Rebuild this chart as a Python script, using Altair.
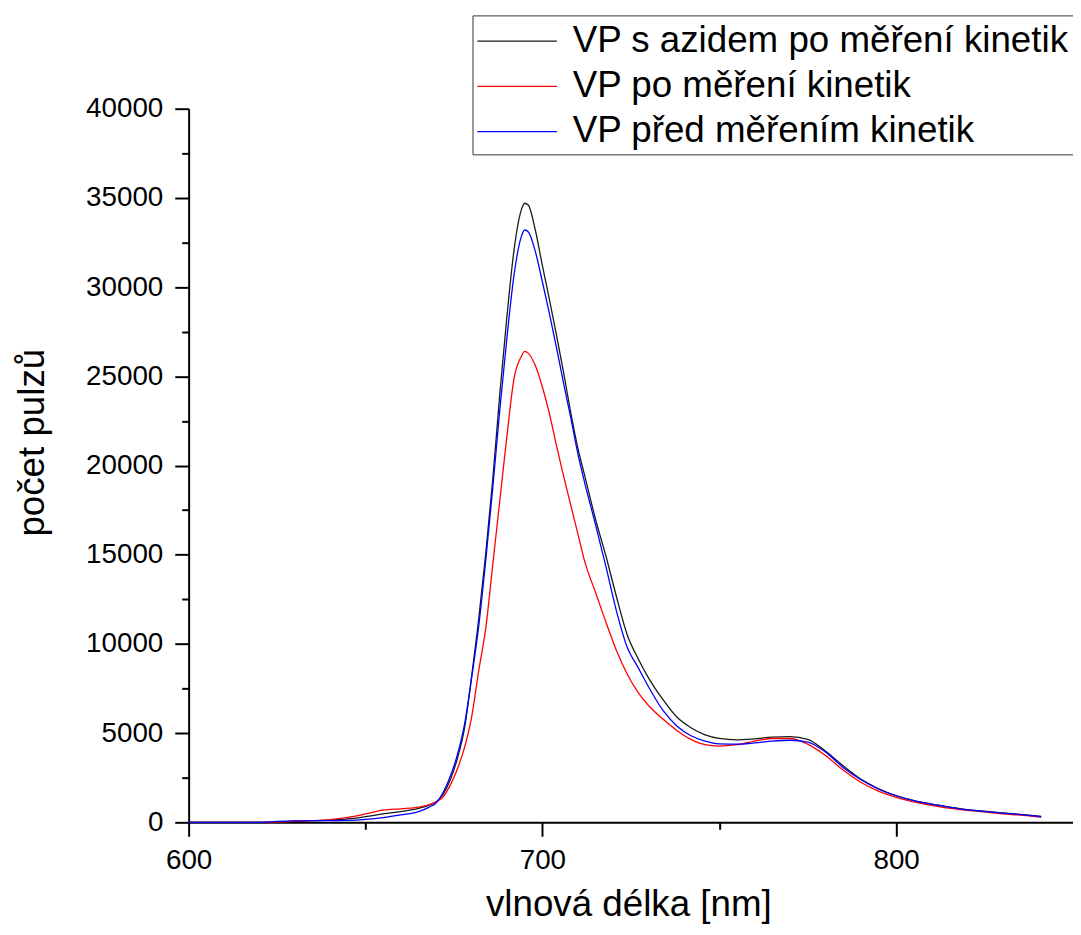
import altair as alt
import pandas as pd

# wavelength grid [nm]
wavelength = [600, 610, 620, 625, 630, 635, 640, 645, 650, 655, 660, 665, 668, 670,
              672, 674, 676, 678, 680, 682, 684, 686, 688, 690, 692, 694, 695, 696,
              698, 700, 702, 704, 706, 708, 710, 712, 715, 718, 721, 724, 727, 730,
              734, 738, 742, 746, 750, 755, 760, 765, 770, 775, 780, 785, 790, 795,
              800, 806, 812, 818, 824, 830, 836, 841]

# VP s azidem po měření kinetik (black)
vp_azid = [0, 0, 0, 20, 60, 90, 120, 190, 320, 470, 600, 780, 960, 1150,
           1600, 2400, 3600, 5300, 8200, 11400, 15100, 19300, 24100, 28400, 32100, 34300, 34700, 34600,
           33200, 31200, 29300, 27300, 25200, 23000, 21000, 19400, 17000, 14900, 12600, 10500, 9200, 8100,
           6900, 5900, 5300, 4900, 4700, 4620, 4680, 4780, 4800, 4650, 4000, 3170, 2420, 1880,
           1500, 1170, 960, 770, 640, 530, 430, 330]

# VP po měření kinetik (red)
vp_po = [0, 0, 0, 20, 60, 90, 150, 280, 470, 680, 760, 850, 1000, 1150,
         1450, 2100, 3000, 4200, 5900, 8500, 10900, 14500, 18100, 21700, 24900, 26100, 26400, 26300,
         25600, 24400, 22900, 21100, 19400, 17800, 16200, 14600, 12900, 11200, 9600, 8300, 7300, 6550,
         5800, 5150, 4650, 4350, 4270, 4350, 4550, 4700, 4700, 4380, 3750, 2930, 2250, 1750,
         1400, 1100, 880, 720, 600, 480, 390, 280]

# VP před měřením kinetik (blue)
vp_pred = [0, 0, 0, 50, 80, 90, 100, 110, 170, 270, 420, 600, 850, 1100,
           1700, 2600, 3800, 5500, 8100, 11000, 14700, 18800, 23200, 27200, 30700, 32800, 33200, 33100,
           32000, 30300, 28500, 26600, 24600, 22700, 20700, 19000, 16700, 14300, 11800, 9800, 8700, 7600,
           6300, 5400, 4850, 4550, 4400, 4380, 4450, 4550, 4600, 4500, 3950, 3080, 2400, 1870,
           1490, 1160, 950, 760, 630, 520, 420, 320]

series_names = ["VP s azidem po měření kinetik", "VP po měření kinetik", "VP před měřením kinetik"]
series_colors = ["#1a1a1a", "#ff0000", "#0000ff"]

# tick positions: major (labelled) and minor (half-length, unlabelled)
x_ticks = [600, 650, 700, 750, 800]
y_ticks = [0, 2500, 5000, 7500, 10000, 12500, 15000, 17500, 20000,
           22500, 25000, 27500, 30000, 32500, 35000, 37500, 40000]

rows = []
for name, vals in zip(series_names, [vp_azid, vp_po, vp_pred]):
    for w, v in zip(wavelength, vals):
        rows.append({"wl": w, "val": v, "series": name})
df = pd.DataFrame(rows)

FONT = "Liberation Sans"
xscale = alt.Scale(domain=[600, 850], nice=False, zero=False)
yscale = alt.Scale(domain=[0, 40000], nice=False)

x_major_test = "datum.value % 100 === 0"
y_major_test = "datum.value % 5000 === 0"

chart = alt.Chart(df).mark_line(strokeWidth=1.3, interpolate="monotone").encode(
    x=alt.X("wl:Q", scale=xscale,
            axis=alt.Axis(orient="bottom", values=x_ticks, title="vlnová délka [nm]",
                          grid=False, format="d",
                          labelExpr=f"{x_major_test} ? datum.label : ''",
                          tickSize={"condition": {"test": x_major_test, "value": 14}, "value": 7},
                          tickWidth=2, tickColor="black",
                          domainColor="black", domainWidth=2,
                          labelFont=FONT, labelFontSize=28, labelColor="black", labelPadding=11,
                          labelFlush=False, labelOverlap=False,
                          titleFont=FONT, titleFontSize=37, titleFontWeight="normal",
                          titleColor="black", titleBaseline="alphabetic",
                          titleX=443, titleY=94, titleAnchor="middle", titleAlign="center")),
    y=alt.Y("val:Q", scale=yscale,
            axis=alt.Axis(orient="left", values=y_ticks, title="počet pulzů",
                          grid=False, format="d",
                          labelExpr=f"{y_major_test} ? datum.label : ''",
                          tickSize={"condition": {"test": y_major_test, "value": 14}, "value": 7},
                          tickWidth=2, tickColor="black",
                          domainColor="black", domainWidth=2,
                          labelFont=FONT, labelFontSize=28, labelColor="black", labelPadding=12,
                          labelFlush=False, labelOverlap=False,
                          titleFont=FONT, titleFontSize=37, titleFontWeight="normal",
                          titleColor="black", titleBaseline="alphabetic",
                          titleX=-146, titleY=336, titleAlign="center", titleAngle=270)),
    color=alt.Color("series:N", title=None,
                    scale=alt.Scale(domain=series_names, range=series_colors),
                    legend=alt.Legend(orient="none", legendX=286, legendY=-94,
                                      symbolType="M-2,0L2,0", symbolSize=1600,
                                      symbolStrokeWidth=1.3, symbolOffset=19,
                                      labelOffset=35, labelFont=FONT, labelFontSize=37,
                                      labelColor="black", labelLimit=2000,
                                      rowPadding=6.5, padding=5,
                                      strokeColor="#333333", fillColor="white",
                                      cornerRadius=0)),
).properties(
    width=891, height=719,
    padding={"left": 182, "top": 98, "right": 0, "bottom": 102},
    autosize=alt.AutoSizeParams(type="none"),
    view=alt.ViewBackground(stroke="transparent", strokeWidth=0, strokeOpacity=0),
).configure_view(stroke="transparent", strokeWidth=0, strokeOpacity=0).configure_axis(
    grid=False).configure(background="white", font=FONT)

chart.save("out.html", embed_options={"renderer": "svg", "actions": False})
